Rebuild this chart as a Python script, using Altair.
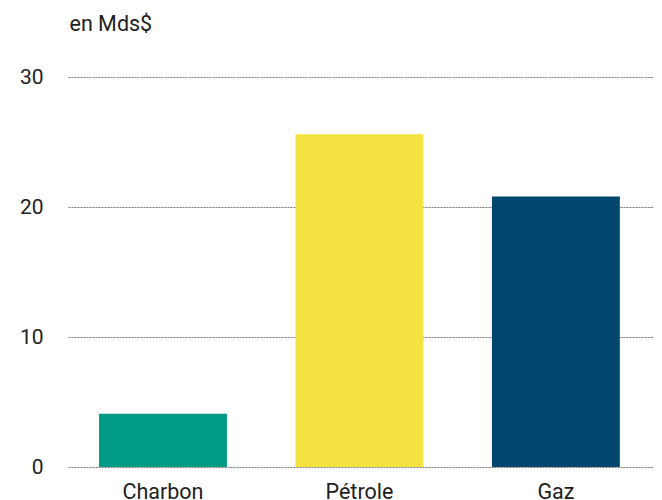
import altair as alt
import pandas as pd

categories = ["Charbon", "Pétrole", "Gaz"]
values = [4.1, 25.6, 20.8]
colors = ["#009B84", "#F4E241", "#00466F"]

df = pd.DataFrame({"cat": categories, "val": values, "col": colors})

chart = alt.Chart(df).mark_bar().encode(
    x=alt.X("cat:N", sort=categories, title=None,
            scale=alt.Scale(paddingInner=0.349, paddingOuter=0.166, align=0.476),
            axis=alt.Axis(labelAngle=0, domain=False, ticks=False, labelPadding=14,
                          labelFontSize=21.5, labelFont="Roboto", labelColor="#1e1e1e")),
    y=alt.Y("val:Q", title="en Mds$", scale=alt.Scale(domain=[0, 30], nice=False),
            axis=alt.Axis(values=[0, 10, 20, 30], domain=False, ticks=False, labelPadding=25,
                          labelFontSize=21, labelFont="Roboto", labelColor="#1e1e1e",
                          gridColor="#777777", gridDash=[2, 1], gridWidth=1,
                          titleAngle=0, titleX=1, titleY=-47, titleAlign="left",
                          titleBaseline="alphabetic", titleFontSize=21.5,
                          titleFont="Roboto", titleFontWeight="normal",
                          titleColor="#1e1e1e")),
    color=alt.Color("col:N", scale=None),
).properties(
    width=586, height=390,
    autosize=alt.AutoSizeParams(type="none"),
    padding={"left": 60, "top": 69, "right": 0, "bottom": 34},
).configure_view(stroke=None)

chart.save("out.html", embed_options={"renderer": "svg", "actions": False})
